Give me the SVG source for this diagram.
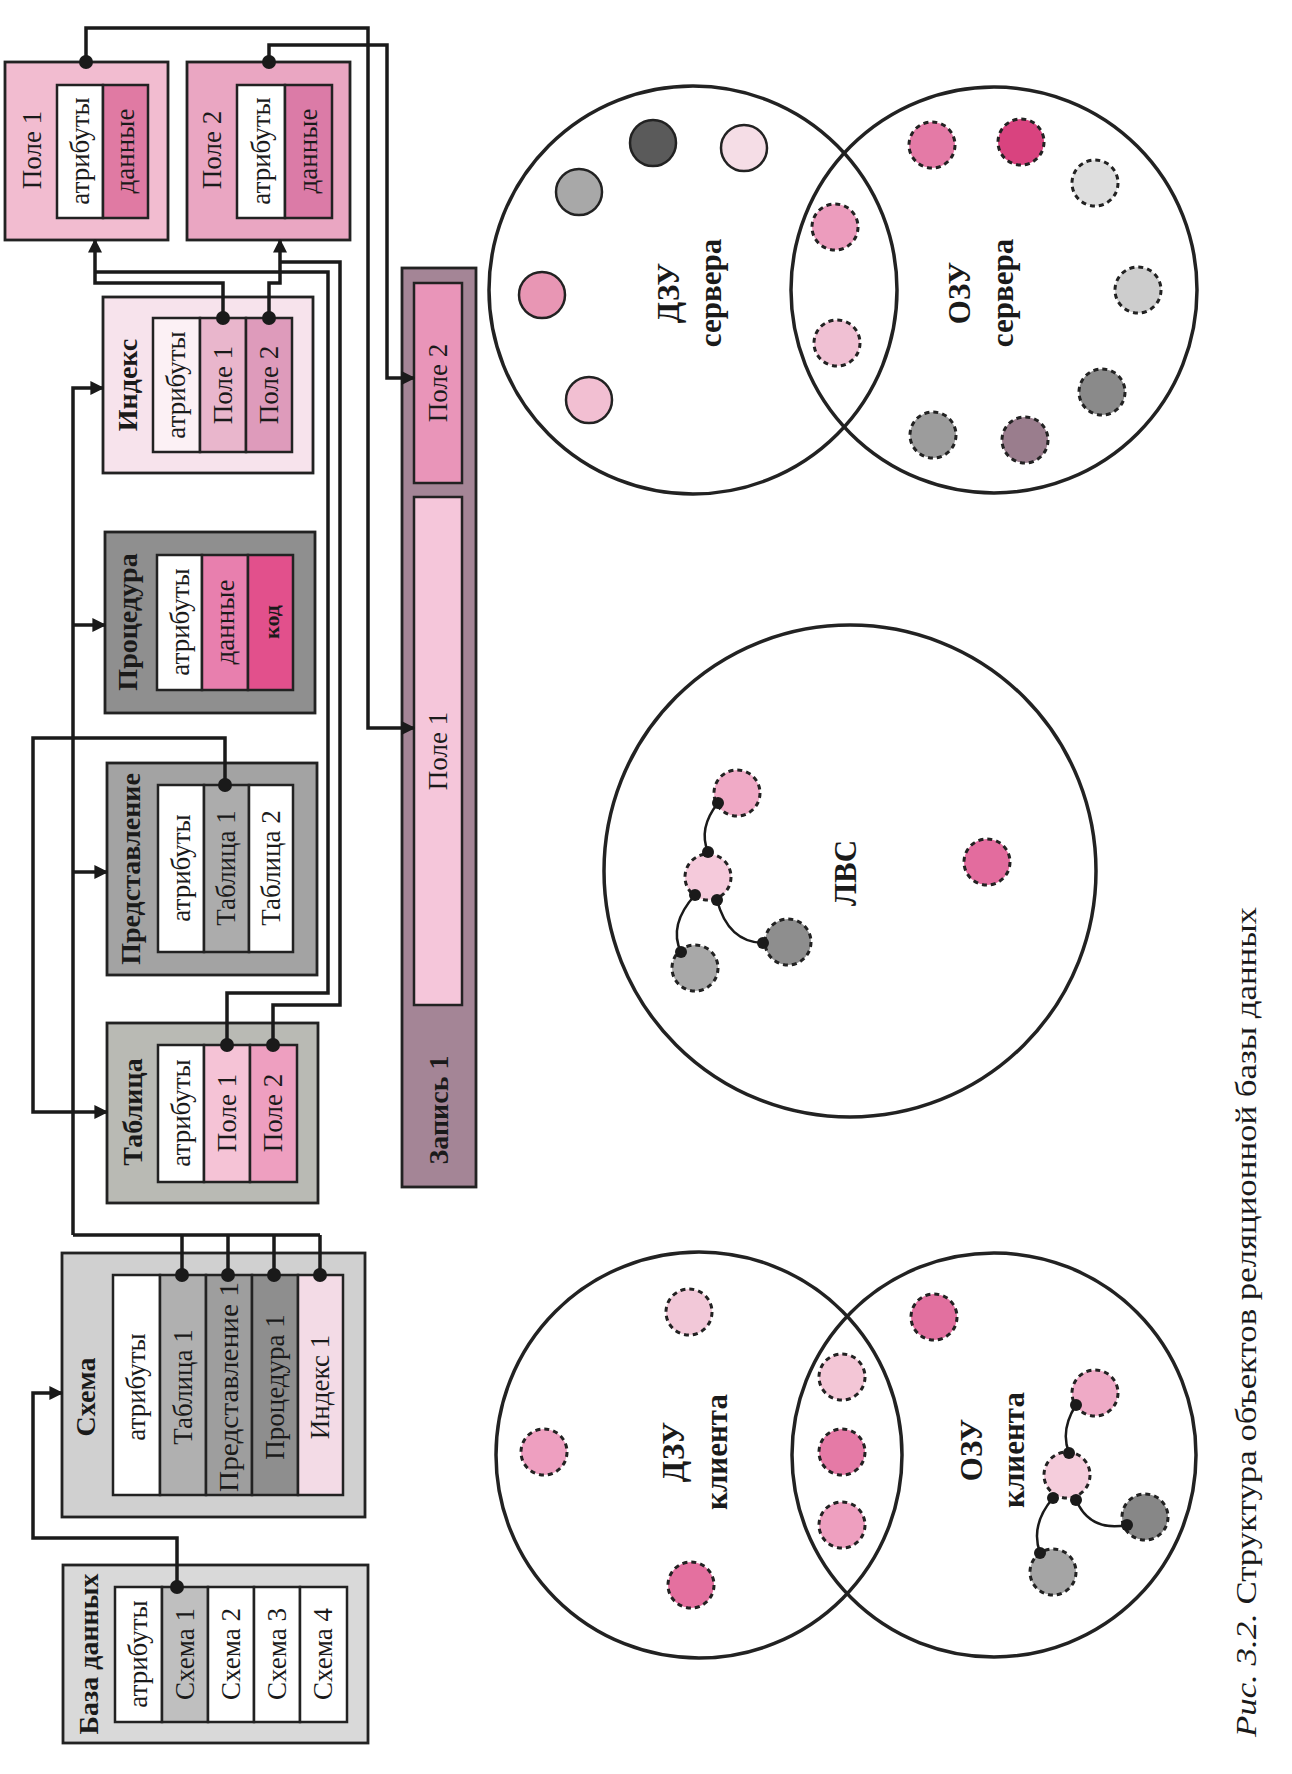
<svg xmlns="http://www.w3.org/2000/svg" width="1292" height="1774" viewBox="0 0 1292 1774">
<style>
.box{stroke:#222;stroke-width:2.8}
.cell{stroke:#222;stroke-width:2.5}
.lbl{font-family:"Liberation Serif","DejaVu Serif",serif;font-size:27px;fill:#1a1a1a;text-anchor:middle}
.ttl{font-weight:bold;font-size:28px}
.con{fill:none;stroke:#1a1a1a;stroke-width:3.5}
.arr{fill:none;stroke:#1a1a1a;stroke-width:3.5;marker-end:url(#ah)}
.dot{fill:#1a1a1a}
.big{fill:none;stroke:#222;stroke-width:3.5}
.sc{stroke:#222;stroke-width:2.5}
.dc{stroke:#222;stroke-width:3;stroke-dasharray:5 4}
.cap{font-family:"Liberation Serif","DejaVu Serif",serif;font-size:30px;fill:#1a1a1a;text-anchor:middle}
</style>
<defs>
<marker id="ah" viewBox="0 0 10 10" refX="9" refY="5" markerWidth="14" markerHeight="14" markerUnits="userSpaceOnUse" orient="auto">
<path d="M0,0 L10,5 L0,10 z" fill="#1a1a1a"/>
</marker>
</defs>
<rect width="1292" height="1774" fill="#ffffff"/>

<g id="node-db">
<rect class="box" x="63" y="1565" width="305" height="178" fill="#d9d9d9"/>
<rect class="cell" x="115" y="1587" width="47" height="135" fill="#ffffff"/>
<rect class="cell" x="162" y="1587" width="46" height="135" fill="#bfbfbf"/>
<rect class="cell" x="208" y="1587" width="46" height="135" fill="#ffffff"/>
<rect class="cell" x="254" y="1587" width="46" height="135" fill="#ffffff"/>
<rect class="cell" x="300" y="1587" width="47" height="135" fill="#ffffff"/>
<text class="lbl ttl" transform="translate(88,1654) rotate(-90)" dy=".35em">База данных</text>
<text class="lbl" transform="translate(138,1654) rotate(-90)" dy=".35em">атрибуты</text>
<text class="lbl" transform="translate(185,1654) rotate(-90)" dy=".35em">Схема 1</text>
<text class="lbl" transform="translate(231,1654) rotate(-90)" dy=".35em">Схема 2</text>
<text class="lbl" transform="translate(277,1654) rotate(-90)" dy=".35em">Схема 3</text>
<text class="lbl" transform="translate(323,1654) rotate(-90)" dy=".35em">Схема 4</text>
</g>

<g id="node-schema">
<rect class="box" x="62" y="1253" width="303" height="264" fill="#d0d0d0"/>
<rect class="cell" x="113" y="1275" width="47" height="220" fill="#ffffff"/>
<rect class="cell" x="160" y="1275" width="46" height="220" fill="#b0b0b0"/>
<rect class="cell" x="206" y="1275" width="46" height="220" fill="#9e9e9e"/>
<rect class="cell" x="252" y="1275" width="46" height="220" fill="#8e8e8e"/>
<rect class="cell" x="298" y="1275" width="45" height="220" fill="#f3dbe6"/>
<text class="lbl ttl" transform="translate(85,1397) rotate(-90)" dy=".35em">Схема</text>
<text class="lbl" transform="translate(136,1387) rotate(-90)" dy=".35em">атрибуты</text>
<text class="lbl" transform="translate(183,1387) rotate(-90)" dy=".35em">Таблица 1</text>
<text class="lbl" transform="translate(229,1387) rotate(-90)" dy=".35em" textLength="210" lengthAdjust="spacingAndGlyphs">Представление 1</text>
<text class="lbl" transform="translate(275,1387) rotate(-90)" dy=".35em">Процедура 1</text>
<text class="lbl" transform="translate(320,1387) rotate(-90)" dy=".35em">Индекс 1</text>
</g>

<g id="node-table">
<rect class="box" x="107" y="1023" width="211" height="180" fill="#b9bab4"/>
<rect class="cell" x="158" y="1045" width="46" height="137" fill="#ffffff"/>
<rect class="cell" x="204" y="1045" width="46" height="137" fill="#f5c3d6"/>
<rect class="cell" x="250" y="1045" width="47" height="137" fill="#ee9fc0"/>
<text class="lbl ttl" transform="translate(132,1112) rotate(-90)" dy=".35em">Таблица</text>
<text class="lbl" transform="translate(181,1113) rotate(-90)" dy=".35em">атрибуты</text>
<text class="lbl" transform="translate(227,1113) rotate(-90)" dy=".35em">Поле 1</text>
<text class="lbl" transform="translate(273,1113) rotate(-90)" dy=".35em">Поле 2</text>
</g>

<g id="node-view">
<rect class="box" x="107" y="763" width="210" height="212" fill="#a3a3a3"/>
<rect class="cell" x="158" y="785" width="46" height="167" fill="#ffffff"/>
<rect class="cell" x="204" y="785" width="45" height="167" fill="#acacac"/>
<rect class="cell" x="249" y="785" width="44" height="167" fill="#ffffff"/>
<text class="lbl ttl" transform="translate(130,869) rotate(-90)" dy=".35em">Представление</text>
<text class="lbl" transform="translate(181,868) rotate(-90)" dy=".35em">атрибуты</text>
<text class="lbl" transform="translate(226,868) rotate(-90)" dy=".35em">Таблица 1</text>
<text class="lbl" transform="translate(271,868) rotate(-90)" dy=".35em">Таблица 2</text>
</g>

<g id="node-proc">
<rect class="box" x="105" y="532" width="210" height="181" fill="#8f8f8f"/>
<rect class="cell" x="157" y="555" width="45" height="135" fill="#ffffff"/>
<rect class="cell" x="202" y="555" width="46" height="135" fill="#e87fae"/>
<rect class="cell" x="248" y="555" width="45" height="135" fill="#e2508c"/>
<text class="lbl ttl" transform="translate(127,622) rotate(-90)" dy=".35em">Процедура</text>
<text class="lbl" transform="translate(180,622) rotate(-90)" dy=".35em">атрибуты</text>
<text class="lbl" transform="translate(225,622) rotate(-90)" dy=".35em">данные</text>
<text class="lbl" transform="translate(271,622) rotate(-90)" dy=".35em" style="font-size:22px;font-weight:bold">код</text>
</g>

<g id="node-index">
<rect class="box" x="103" y="297" width="210" height="176" fill="#f7e3ec"/>
<rect class="cell" x="153" y="318" width="47" height="134" fill="#fcf1f5"/>
<rect class="cell" x="200" y="318" width="46" height="134" fill="#e9b6cc"/>
<rect class="cell" x="246" y="318" width="46" height="134" fill="#de9bbb"/>
<text class="lbl ttl" transform="translate(127,385) rotate(-90)" dy=".35em">Индекс</text>
<text class="lbl" transform="translate(176,385) rotate(-90)" dy=".35em">атрибуты</text>
<text class="lbl" transform="translate(223,385) rotate(-90)" dy=".35em">Поле 1</text>
<text class="lbl" transform="translate(269,385) rotate(-90)" dy=".35em">Поле 2</text>
</g>

<g id="node-field1">
<rect class="box" x="5" y="62" width="163" height="178" fill="#f2bcd0"/>
<rect class="cell" x="57" y="85" width="46" height="133" fill="#ffffff"/>
<rect class="cell" x="103" y="85" width="45" height="133" fill="#e07aa3"/>
<text class="lbl" transform="translate(32,150) rotate(-90)" dy=".35em">Поле 1</text>
<text class="lbl" transform="translate(80,151) rotate(-90)" dy=".35em">атрибуты</text>
<text class="lbl" transform="translate(125,151) rotate(-90)" dy=".35em">данные</text>
</g>

<g id="node-field2">
<rect class="box" x="187" y="62" width="163" height="178" fill="#eaa6c2"/>
<rect class="cell" x="237" y="85" width="48" height="133" fill="#ffffff"/>
<rect class="cell" x="285" y="85" width="47" height="133" fill="#db7ba7"/>
<text class="lbl" transform="translate(212,150) rotate(-90)" dy=".35em">Поле 2</text>
<text class="lbl" transform="translate(261,151) rotate(-90)" dy=".35em">атрибуты</text>
<text class="lbl" transform="translate(308,151) rotate(-90)" dy=".35em">данные</text>
</g>

<g id="node-record">
<rect class="box" x="402" y="268" width="74" height="919" fill="#a48596"/>
<rect class="cell" x="414" y="283" width="48" height="200" fill="#e995b9"/>
<rect class="cell" x="414" y="497" width="48" height="508" fill="#f5c6da"/>
<text class="lbl" transform="translate(438,383) rotate(-90)" dy=".35em">Поле 2</text>
<text class="lbl" transform="translate(438,751) rotate(-90)" dy=".35em">Поле 1</text>
<text class="lbl ttl" transform="translate(438,1110) rotate(-90)" dy=".35em">Запись 1</text>
</g>

<g id="connectors">
<path class="arr" d="M177,1587 V1538 H33 V1393 H62"/>
<path class="con" d="M182,1275 V1235 M228,1275 V1235 M274,1275 V1235 M320,1275 V1235 M73,1235 H320"/>
<path class="arr" d="M73,1235 V388 H103"/>
<path class="arr" d="M73,1112 H107"/>
<path class="arr" d="M73,872 H107"/>
<path class="arr" d="M73,625 H105"/>
<path class="con" d="M225,785 V738 H33 V1112 H73"/>
<path class="arr" d="M223,318 V283 H95 V240"/>
<path class="arr" d="M269,318 V283 H280 V240"/>
<path class="con" d="M227,1045 V993 H328 V272 H95"/>
<path class="con" d="M273,1045 V1005 H340 V262 H280"/>
<path class="arr" d="M86,62 V28 H368 V728 H414"/>
<path class="arr" d="M269,62 V45 H387 V378 H414"/>
<circle class="dot" cx="177" cy="1587" r="7"/>
<circle class="dot" cx="182" cy="1275" r="7"/>
<circle class="dot" cx="228" cy="1275" r="7"/>
<circle class="dot" cx="274" cy="1275" r="7"/>
<circle class="dot" cx="320" cy="1275" r="7"/>
<circle class="dot" cx="225" cy="785" r="7"/>
<circle class="dot" cx="227" cy="1045" r="7"/>
<circle class="dot" cx="273" cy="1045" r="7"/>
<circle class="dot" cx="223" cy="318" r="7"/>
<circle class="dot" cx="269" cy="318" r="7"/>
<circle class="dot" cx="86" cy="62" r="7"/>
<circle class="dot" cx="269" cy="62" r="7"/>
</g>

<g id="server">
<circle class="big" cx="693" cy="290" r="204"/>
<circle class="big" cx="994" cy="290" r="203"/>
<circle class="sc" cx="653" cy="143" r="23" fill="#5a5a5a"/>
<circle class="sc" cx="744" cy="148" r="23" fill="#f5dde6"/>
<circle class="sc" cx="579" cy="192" r="23" fill="#a8a8a8"/>
<circle class="sc" cx="542" cy="295" r="23" fill="#e896b4"/>
<circle class="sc" cx="589" cy="400" r="23" fill="#f2bfd2"/>
<circle class="dc" cx="835" cy="227" r="23" fill="#ec9cbd"/>
<circle class="dc" cx="837" cy="343" r="23" fill="#f0c0d3"/>
<circle class="dc" cx="932" cy="145" r="23" fill="#e47aa6"/>
<circle class="dc" cx="1021" cy="142" r="23" fill="#d9437f"/>
<circle class="dc" cx="1095" cy="183" r="23" fill="#dedede"/>
<circle class="dc" cx="1138" cy="290" r="23" fill="#cdcdcd"/>
<circle class="dc" cx="1102" cy="392" r="23" fill="#8a8a8a"/>
<circle class="dc" cx="1025" cy="440" r="23" fill="#9a7d8d"/>
<circle class="dc" cx="933" cy="435" r="23" fill="#9c9c9c"/>
<text class="lbl ttl" style="font-size:31px" transform="translate(668,293) rotate(-90)" dy=".35em">ДЗУ</text>
<text class="lbl ttl" style="font-size:31px" transform="translate(710,293) rotate(-90)" dy=".35em">сервера</text>
<text class="lbl ttl" style="font-size:31px" transform="translate(959,293) rotate(-90)" dy=".35em">ОЗУ</text>
<text class="lbl ttl" style="font-size:31px" transform="translate(1002,293) rotate(-90)" dy=".35em">сервера</text>
</g>

<g id="lan">
<circle class="big" cx="850" cy="871" r="246"/>
<path class="con" style="stroke-width:2.5" d="M718,803 Q698,828 708,852 M695,895 Q668,925 681,952 M717,900 Q728,942 763,943"/>
<circle class="dc" cx="737" cy="793" r="23" fill="#f0aac6"/>
<circle class="dc" cx="708" cy="877" r="23" fill="#f5cadb"/>
<circle class="dc" cx="695" cy="968" r="23" fill="#a8a8a8"/>
<circle class="dc" cx="788" cy="942" r="23" fill="#8e8e8e"/>
<circle class="dc" cx="987" cy="862" r="23" fill="#e36c9e"/>
<circle class="dot" cx="718" cy="803" r="6"/>
<circle class="dot" cx="708" cy="852" r="6"/>
<circle class="dot" cx="695" cy="895" r="6"/>
<circle class="dot" cx="717" cy="900" r="6"/>
<circle class="dot" cx="681" cy="952" r="6"/>
<circle class="dot" cx="763" cy="943" r="6"/>
<text class="lbl ttl" style="font-size:31px" transform="translate(845,873) rotate(-90)" dy=".35em">ЛВС</text>
</g>

<g id="client">
<circle class="big" cx="699" cy="1455" r="203"/>
<circle class="big" cx="994" cy="1455" r="202"/>
<circle class="dc" cx="689" cy="1312" r="23" fill="#f2c8d8"/>
<circle class="dc" cx="544" cy="1452" r="23" fill="#ee9fc0"/>
<circle class="dc" cx="691" cy="1585" r="23" fill="#e4709f"/>
<circle class="dc" cx="842" cy="1377" r="23" fill="#f3c6d6"/>
<circle class="dc" cx="842" cy="1452" r="23" fill="#e57aa6"/>
<circle class="dc" cx="842" cy="1525" r="23" fill="#ee9fbf"/>
<circle class="dc" cx="934" cy="1317" r="23" fill="#e2709f"/>
<path class="con" style="stroke-width:2.5" d="M1076,1405 Q1060,1430 1069,1453 M1053,1498 Q1030,1525 1040,1553 M1076,1500 Q1090,1532 1127,1525"/>
<circle class="dc" cx="1095" cy="1393" r="23" fill="#efaac6"/>
<circle class="dc" cx="1067" cy="1475" r="23" fill="#f5cddc"/>
<circle class="dc" cx="1145" cy="1517" r="23" fill="#878787"/>
<circle class="dc" cx="1053" cy="1572" r="23" fill="#a5a5a5"/>
<circle class="dot" cx="1076" cy="1405" r="6"/>
<circle class="dot" cx="1069" cy="1453" r="6"/>
<circle class="dot" cx="1053" cy="1498" r="6"/>
<circle class="dot" cx="1076" cy="1500" r="6"/>
<circle class="dot" cx="1127" cy="1525" r="6"/>
<circle class="dot" cx="1040" cy="1553" r="6"/>
<text class="lbl ttl" style="font-size:31px" transform="translate(673,1452) rotate(-90)" dy=".35em">ДЗУ</text>
<text class="lbl ttl" style="font-size:31px" transform="translate(716,1452) rotate(-90)" dy=".35em">клиента</text>
<text class="lbl ttl" style="font-size:31px" transform="translate(971,1450) rotate(-90)" dy=".35em">ОЗУ</text>
<text class="lbl ttl" style="font-size:31px" transform="translate(1013,1450) rotate(-90)" dy=".35em">клиента</text>
</g>

<text class="cap" transform="translate(1245,1322) rotate(-90)" dy=".35em" textLength="830" lengthAdjust="spacingAndGlyphs"><tspan font-style="italic">Рис. 3.2.</tspan> Структура объектов реляционной базы данных</text>
</svg>
